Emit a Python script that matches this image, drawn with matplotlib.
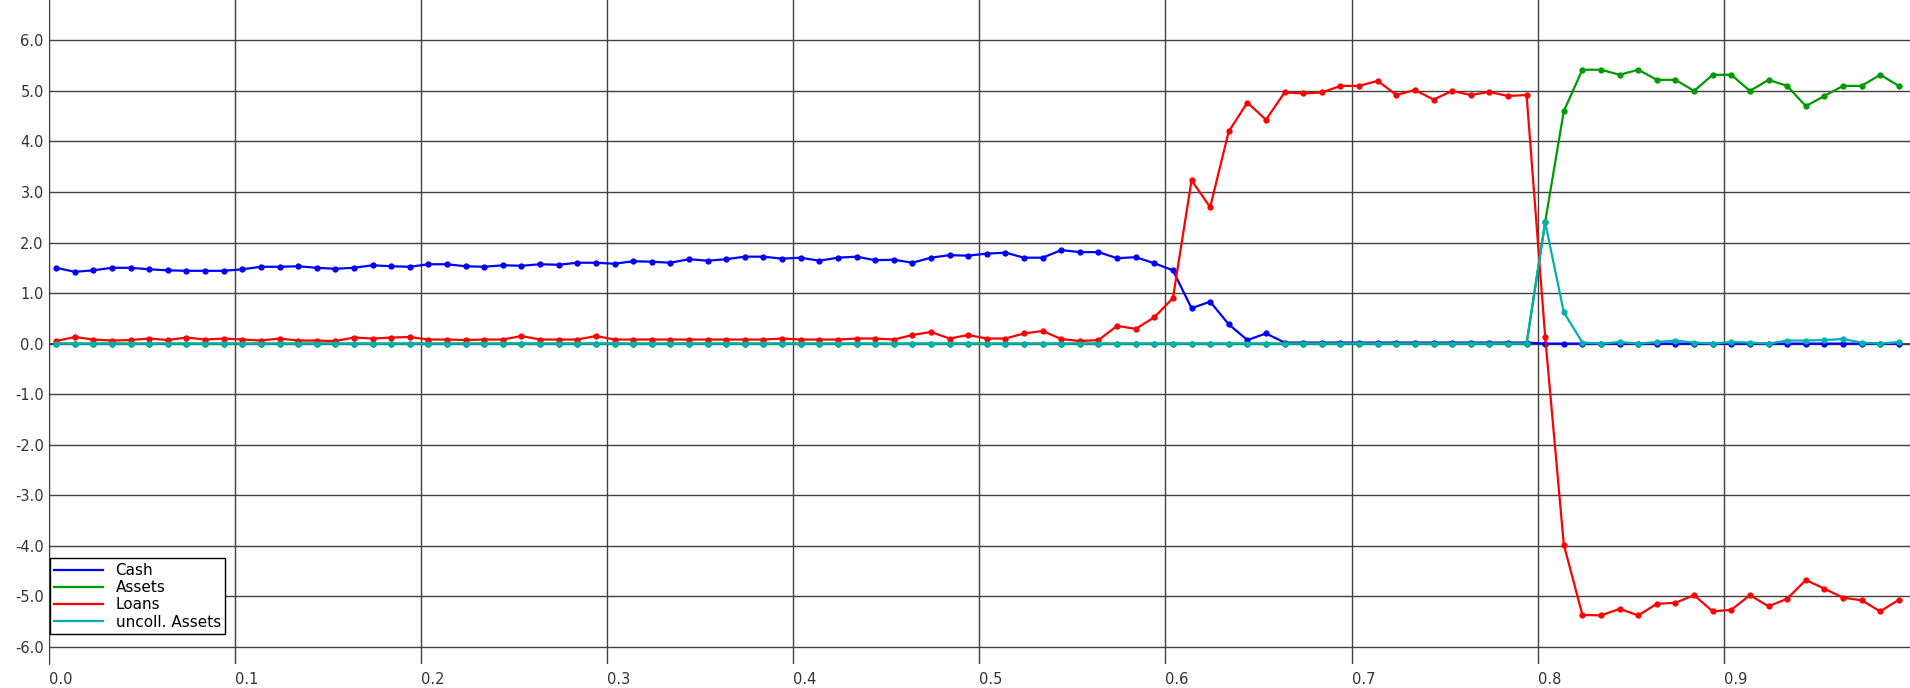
import numpy as np
import matplotlib.pyplot as plt
from matplotlib.ticker import FormatStrFormatter
from matplotlib.lines import Line2D

# x positions: one sample per 0.01, slightly offset from the grid
x = np.arange(100) * 0.01 + 0.004

cash = [1.5, 1.42, 1.45, 1.5, 1.5, 1.47, 1.45, 1.44, 1.44, 1.44,
        1.47, 1.52, 1.52, 1.53, 1.5, 1.48, 1.5, 1.55, 1.53, 1.52,
        1.57, 1.57, 1.53, 1.52, 1.55, 1.54, 1.57, 1.56, 1.6, 1.6,
        1.58, 1.63, 1.62, 1.6, 1.67, 1.64, 1.67, 1.72, 1.72, 1.68,
        1.7, 1.64, 1.7, 1.72, 1.65, 1.66, 1.6, 1.7, 1.75, 1.74,
        1.78, 1.8, 1.7, 1.7, 1.85, 1.81, 1.81, 1.69, 1.71, 1.59,
        1.45, 0.7, 0.83, 0.38, 0.07, 0.2, 0.02, 0.02, 0.02, 0.02,
        0.02, 0.02, 0.02, 0.02, 0.02, 0.02, 0.02, 0.02, 0.02, 0.02,
        0.0, 0.0, 0.0, 0.0, 0.0, 0.0, 0.0, 0.0, 0.0, 0.0,
        0.0, 0.0, 0.0, 0.0, 0.0, 0.0, 0.0, 0.0, 0.0, 0.0]

assets = [0.0] * 80 + [2.41, 4.6, 5.42, 5.42, 5.32, 5.42, 5.22, 5.22, 5.0, 5.32,
                       5.32, 5.0, 5.22, 5.1, 4.7, 4.9, 5.1, 5.1, 5.32, 5.1]

loans = [0.05, 0.13, 0.08, 0.06, 0.07, 0.1, 0.07, 0.12, 0.08, 0.1,
         0.08, 0.06, 0.1, 0.06, 0.06, 0.05, 0.12, 0.1, 0.12, 0.13,
         0.08, 0.08, 0.07, 0.08, 0.08, 0.15, 0.08, 0.08, 0.08, 0.15,
         0.08, 0.08, 0.08, 0.08, 0.08, 0.08, 0.08, 0.08, 0.08, 0.1,
         0.08, 0.08, 0.08, 0.1, 0.1, 0.08, 0.17, 0.23, 0.1, 0.17,
         0.1, 0.1, 0.2, 0.25, 0.09, 0.05, 0.07, 0.35, 0.29, 0.52,
         0.9, 3.23, 2.7, 4.2, 4.77, 4.43, 4.97, 4.95, 4.97, 5.1,
         5.1, 5.2, 4.92, 5.02, 4.83, 5.0, 4.92, 4.98, 4.9, 4.92,
         0.13, -3.98, -5.37, -5.38, -5.25, -5.38, -5.15, -5.13, -4.98, -5.3,
         -5.27, -4.98, -5.2, -5.05, -4.68, -4.85, -5.03, -5.08, -5.3, -5.07]

uncoll = [0.0] * 80 + [2.4, 0.62, 0.02, 0.0, 0.03, 0.0, 0.03, 0.06, 0.02, 0.0,
                       0.03, 0.02, 0.0, 0.06, 0.06, 0.07, 0.09, 0.02, 0.0, 0.03]

names = ["Cash", "Assets", "Loans", "uncoll. Assets"]
colors = ["#0000ff", "#009900", "#ff0000", "#00b0b0"]

fig = plt.figure(figsize=(19.1, 6.88), dpi=100)
ax = fig.add_axes([0.0255, 0.035, 0.9745, 0.965])

for ys, name, c in zip([cash, assets, loans, uncoll], names, colors):
    ax.plot(x, ys, color=c, marker="o", markersize=3.5, linewidth=1.6)

ax.set_xlim(0, 1.0)
ax.set_ylim(-6.34, 6.8)
ax.set_xticks(np.arange(0, 1.0, 0.1))
ax.set_yticks(np.arange(-6, 7, 1))
ax.xaxis.set_major_formatter(FormatStrFormatter("%.1f"))
ax.yaxis.set_major_formatter(FormatStrFormatter("%.1f"))
ax.grid(True, color="#404040", linewidth=1)
ax.axhline(0, color="#202020", linewidth=1.2, zorder=1)
for s in ["top", "right", "bottom"]:
    ax.spines[s].set_visible(False)
ax.spines["left"].set_color("#404040")
ax.tick_params(length=0, labelsize=10.5, colors="#333333")
ax.tick_params(axis="x", pad=6)
for lbl in ax.get_xticklabels():
    lbl.set_horizontalalignment("left")

# legend shows plain lines only
handles = [Line2D([], [], color=c, linewidth=1.6) for c in colors]
leg = ax.legend(handles, names, loc="lower left", bbox_to_anchor=(-0.001, 0.04),
                fontsize=11, fancybox=False, edgecolor="black", framealpha=1,
                handlelength=3.2, borderpad=0.3, labelspacing=0.15,
                borderaxespad=0.2)
leg.get_frame().set_linewidth(1)

fig.savefig("out.png", dpi=100)
